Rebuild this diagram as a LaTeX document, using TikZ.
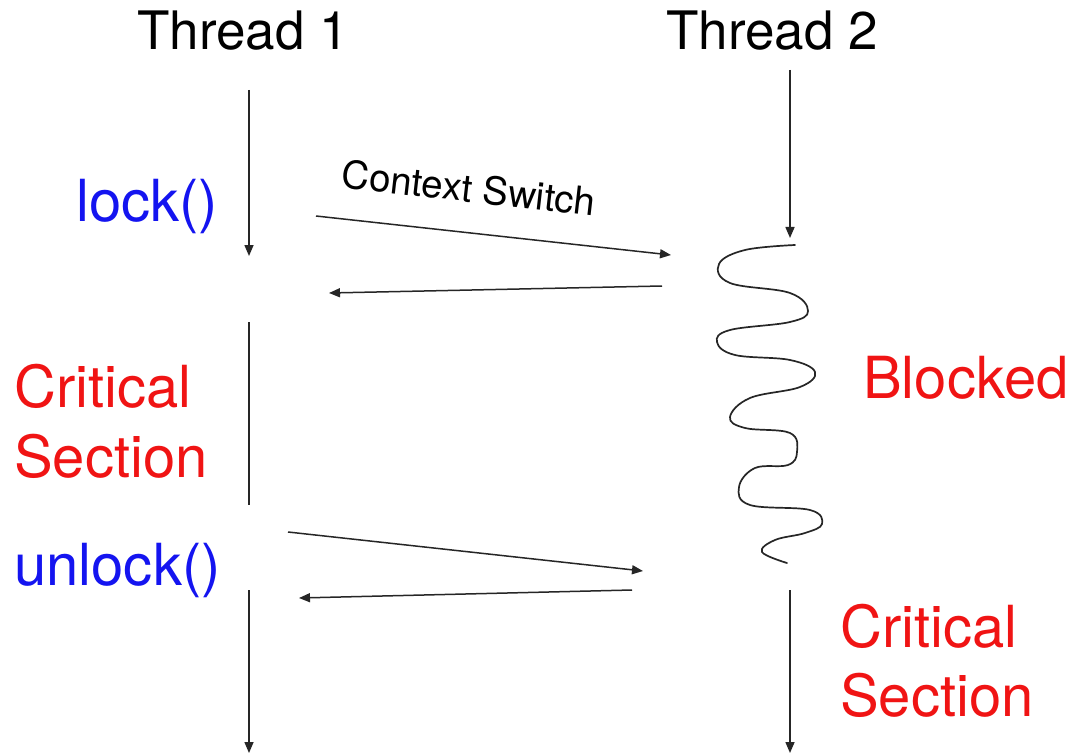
\documentclass[tikz,border=0pt]{standalone}
\usepackage{fontspec}
\setmainfont{TeX Gyre Heros}
\usetikzlibrary{arrows.meta}
\definecolor{lockblue}{RGB}{20,20,240}
\definecolor{secred}{RGB}{240,20,20}
\tikzset{
  flow/.style={line width=1.5pt, draw=black!85, -{Triangle[length=11pt,width=9pt]}},
  plain/.style={line width=1.5pt, draw=black!85},
  head/.style={inner sep=0pt, anchor=base, font=\fontsize{53}{60}\selectfont},
  call/.style={inner sep=0pt, anchor=base west, text=lockblue, font=\fontsize{58}{66}\selectfont},
  state/.style={inner sep=0pt, anchor=base west, text=secred, align=left, font=\fontsize{58}{70}\selectfont},
}
\begin{document}
\begin{tikzpicture}[x=1pt,y=-1pt]
\useasboundingbox[fill=white] (0,0) rectangle (1076,754);

% thread headers
\node[head] (t1) at (243,50) {Thread 1};
\node[head] (t2) at (772,50) {Thread 2};

% labels
\node[call] (lock) at (76,222) {lock()};
\node[call] (unlock) at (14,585) {unlock()};
\node[state] (cs1) at (14,407) {Critical};
\node[state] (cs1b) at (14,477) {Section};
\node[state] (blk) at (863,398) {Blocked};
\node[state] (cs2) at (840,647) {Critical};
\node[state] (cs2b) at (840,716) {Section};
\node[inner sep=0pt, rotate=-6.5, font=\fontsize{38.5}{44}\selectfont] (ctx) at (469,188) {Context Switch};

% thread 1 timeline
\coordinate (a1) at (249,90);   \coordinate (a2) at (249,256);
\coordinate (b1) at (249,322);  \coordinate (b2) at (249,505);
\coordinate (c1) at (249,590);  \coordinate (c2) at (249,753);
\draw[flow] (a1) -- (a2);
\draw[plain] (b1) -- (b2);
\draw[flow] (c1) -- (c2);

% thread 2 timeline
\coordinate (d1) at (790,70);   \coordinate (d2) at (790,238);
\coordinate (e1) at (790,590);  \coordinate (e2) at (790,753);
\draw[flow] (d1) -- (d2);
\draw[flow] (e1) -- (e2);

% context switches
\coordinate (s1) at (316,216);  \coordinate (s2) at (671,255);
\coordinate (r1) at (662,286);  \coordinate (r2) at (329,293);
\coordinate (u1) at (288,532);  \coordinate (u2) at (643,571);
\coordinate (v1) at (632,590);  \coordinate (v2) at (299,598);
\draw[flow] (s1) -- (s2);
\draw[flow] (r1) -- (r2);
\draw[flow] (u1) -- (u2);
\draw[flow] (v1) -- (v2);

% blocked squiggle
\draw[line width=1.7pt, black!85, line cap=round]
  plot[smooth, tension=0.65] coordinates {
    (795,245) (745,250) (719,264) (730,283) (790,293) (808,311)
    (790,322) (730,330) (717,342) (735,355) (790,360) (815,372)
    (800,387) (750,398) (730,417) (745,428) (790,433) (797,452)
    (788,465) (755,468) (739,487) (750,505) (810,510) (822,524)
    (805,533) (775,540) (762,552) (787,563)
  };
\end{tikzpicture}
\end{document}
